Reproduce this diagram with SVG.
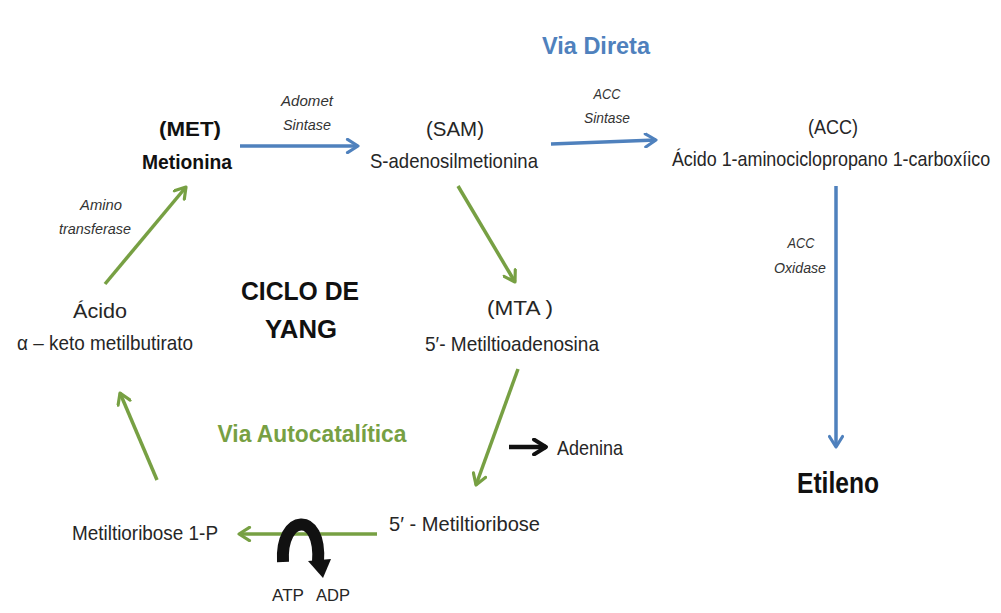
<svg xmlns="http://www.w3.org/2000/svg" width="1001" height="613" viewBox="0 0 1001 613">
<style>
text{font-family:"Liberation Sans",Arial,sans-serif;fill:#262626}
.n{font-size:21px}
.b{font-size:21px;font-weight:bold;fill:#111}
.e{font-size:15px;font-style:italic;fill:#333}
.blue{stroke:#4F81BD;stroke-width:3.5;fill:none}
.green{stroke:#77A043;stroke-width:3.5;fill:none}
</style>
<defs>
<marker id="ab" viewBox="0 0 12 12" refX="10" refY="6" markerWidth="4.5" markerHeight="4.5" orient="auto" markerUnits="strokeWidth">
<path d="M2,1 L10,6 L2,11" fill="none" stroke="#4F81BD" stroke-width="2.4" stroke-linecap="round" stroke-linejoin="round"/>
</marker>
<marker id="ag" viewBox="0 0 12 12" refX="10" refY="6" markerWidth="4.5" markerHeight="4.5" orient="auto" markerUnits="strokeWidth">
<path d="M2,1 L10,6 L2,11" fill="none" stroke="#77A043" stroke-width="2.4" stroke-linecap="round" stroke-linejoin="round"/>
</marker>
<marker id="ak" viewBox="0 0 12 12" refX="10" refY="6" markerWidth="4" markerHeight="4" orient="auto" markerUnits="strokeWidth">
<path d="M2,1 L10,6 L2,11" fill="none" stroke="#111" stroke-width="2.6" stroke-linecap="round" stroke-linejoin="round"/>
</marker>
</defs>
<rect width="1001" height="613" fill="#fff"/>

<g id="connectors">
<line class="blue" x1="240" y1="146" x2="358" y2="146" marker-end="url(#ab)"/>
<line class="blue" x1="551" y1="144" x2="656" y2="140" marker-end="url(#ab)"/>
<line class="blue" x1="836" y1="186" x2="836" y2="447" marker-end="url(#ab)"/>
<line class="green" x1="458" y1="186" x2="515" y2="282" marker-end="url(#ag)"/>
<line class="green" x1="518" y1="369" x2="476" y2="485" marker-end="url(#ag)"/>
<line class="green" x1="377" y1="534" x2="239" y2="534" marker-end="url(#ag)"/>
<line class="green" x1="157" y1="480" x2="120" y2="393" marker-end="url(#ag)"/>
<line class="green" x1="105" y1="284" x2="186" y2="187" marker-end="url(#ag)"/>
<line x1="509" y1="447" x2="546" y2="447" stroke="#111" stroke-width="4.5" marker-end="url(#ak)"/>
<g id="atp-adp">
<path d="M283,562 C280,514 322,510 318,562" fill="none" stroke="#111" stroke-width="12"/>
<path d="M308,561 L331,559 L323,578 Z" fill="#111"/>
</g>
</g>

<g id="title-direta"><text x="596" y="54" text-anchor="middle" style="font-size:24px;font-weight:bold;fill:#4F81BD" textLength="108" lengthAdjust="spacingAndGlyphs">Via Direta</text></g>
<g id="title-auto"><text x="312" y="442" text-anchor="middle" style="font-size:24px;font-weight:bold;fill:#77A043" textLength="189" lengthAdjust="spacingAndGlyphs">Via Autocatalítica</text></g>
<g id="ciclo">
<text x="300" y="300" text-anchor="middle" style="font-size:25px;font-weight:bold;fill:#111" textLength="118" lengthAdjust="spacingAndGlyphs">CICLO DE</text>
<text x="301" y="338" text-anchor="middle" style="font-size:25px;font-weight:bold;fill:#111" textLength="72" lengthAdjust="spacingAndGlyphs">YANG</text>
</g>

<g id="met">
<text class="b" x="190" y="136" text-anchor="middle" textLength="62" lengthAdjust="spacingAndGlyphs">(MET)</text>
<text class="b" x="187" y="169" text-anchor="middle" textLength="90" lengthAdjust="spacingAndGlyphs">Metionina</text>
</g>
<g id="adomet">
<text class="e" x="307" y="106" text-anchor="middle" textLength="52" lengthAdjust="spacingAndGlyphs">Adomet</text>
<text class="e" x="307" y="130" text-anchor="middle" textLength="48" lengthAdjust="spacingAndGlyphs">Sintase</text>
</g>
<g id="sam">
<text class="n" x="455" y="136" text-anchor="middle" textLength="58" lengthAdjust="spacingAndGlyphs">(SAM)</text>
<text class="n" x="454" y="168" text-anchor="middle" textLength="168" lengthAdjust="spacingAndGlyphs">S-adenosilmetionina</text>
</g>
<g id="accsint">
<text class="e" x="607" y="99" text-anchor="middle" textLength="27" lengthAdjust="spacingAndGlyphs">ACC</text>
<text class="e" x="607" y="123" text-anchor="middle" textLength="46" lengthAdjust="spacingAndGlyphs">Sintase</text>
</g>
<g id="acc">
<text class="n" x="833" y="134" text-anchor="middle" textLength="50" lengthAdjust="spacingAndGlyphs">(ACC)</text>
<text class="n" transform="translate(831,166) scale(0.82,1)" x="0" y="0" text-anchor="middle" textLength="388" lengthAdjust="spacingAndGlyphs">Ácido 1-aminociclopropano 1-carboxíico</text>
</g>
<g id="accox">
<text class="e" x="801" y="248" text-anchor="middle" textLength="27" lengthAdjust="spacingAndGlyphs">ACC</text>
<text class="e" x="800" y="273" text-anchor="middle" textLength="52" lengthAdjust="spacingAndGlyphs">Oxidase</text>
</g>
<g id="etileno"><text x="838" y="493" text-anchor="middle" style="font-size:29px;font-weight:bold;fill:#111" textLength="82" lengthAdjust="spacingAndGlyphs">Etileno</text></g>
<g id="mta">
<text class="n" x="520" y="315" text-anchor="middle" textLength="66" lengthAdjust="spacingAndGlyphs">(MTA )</text>
<text class="n" x="512" y="351" text-anchor="middle" textLength="174" lengthAdjust="spacingAndGlyphs">5′- Metiltioadenosina</text>
</g>
<g id="adenina"><text class="n" x="557" y="455" textLength="66" lengthAdjust="spacingAndGlyphs">Adenina</text></g>
<g id="mtr"><text class="n" x="389" y="531" textLength="151" lengthAdjust="spacingAndGlyphs">5′ - Metiltioribose</text></g>
<g id="mtr1p"><text class="n" x="72" y="540" textLength="146" lengthAdjust="spacingAndGlyphs">Metiltioribose 1-P</text></g>
<g id="atp"><text x="288" y="601" text-anchor="middle" style="font-size:17px" textLength="32" lengthAdjust="spacingAndGlyphs">ATP</text></g>
<g id="adp"><text x="333" y="601" text-anchor="middle" style="font-size:17px" textLength="34" lengthAdjust="spacingAndGlyphs">ADP</text></g>
<g id="keto">
<text class="n" x="100" y="318" text-anchor="middle" textLength="54" lengthAdjust="spacingAndGlyphs">Ácido</text>
<text class="n" x="105" y="350" text-anchor="middle" textLength="176" lengthAdjust="spacingAndGlyphs">α – keto metilbutirato</text>
</g>
<g id="amino">
<text class="e" x="101" y="210" text-anchor="middle" textLength="42" lengthAdjust="spacingAndGlyphs">Amino</text>
<text class="e" x="95" y="234" text-anchor="middle" textLength="72" lengthAdjust="spacingAndGlyphs">transferase</text>
</g>
</svg>
